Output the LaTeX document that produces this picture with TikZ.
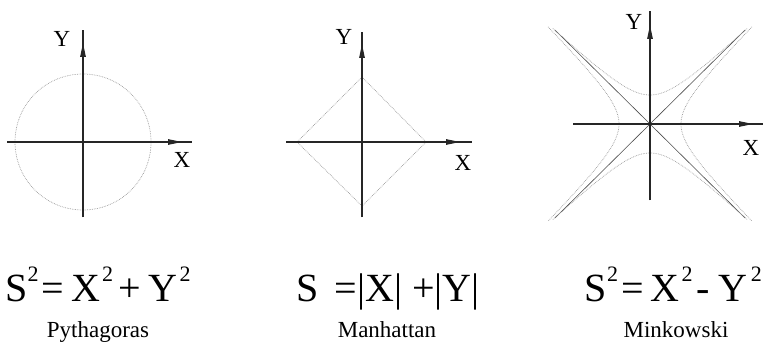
\documentclass[tikz,border=0pt]{standalone}
\usepackage{fontspec}
\setmainfont{Liberation Serif}
\usetikzlibrary{arrows.meta}
\newcommand{\sqr}{\raisebox{0.5em}{\fontsize{22}{22}\selectfont 2}}
\newcommand{\hs}[1]{\hspace{#1em}}
\tikzset{
  axline/.style={line width=1.1pt, black!85},
  axtipline/.style={line width=1.1pt, black!85, -{Stealth[length=14pt,width=5.5pt,inset=0pt]}},
  curvestyle/.style={line width=0.7pt, black!40, densely dotted},
  asymline/.style={line width=0.6pt, black!70},
  axlab/.style={font=\fontsize{23}{23}\selectfont, inner sep=0pt},
  formulatext/.style={font=\fontsize{40}{44}\selectfont, inner sep=0pt, anchor=base},
  nametext/.style={font=\fontsize{23}{25}\selectfont, inner sep=0pt, anchor=base}
}
\begin{document}
\begin{tikzpicture}[x=1pt,y=-1pt]
\useasboundingbox (0,0) rectangle (765,345);
% ---------- Pythagoras ----------
\coordinate (c1) at (83,142);
\draw[curvestyle] (c1) circle[radius=68];
\coordinate (x1a) at (7,142); \coordinate (x1b) at (192,142); \coordinate (x1t) at (182,142);
\coordinate (y1a) at (83,217); \coordinate (y1b) at (83,30); \coordinate (y1t) at (83,43);
\draw[axline] (x1a) -- (x1b); \draw[axtipline] (x1a) -- (x1t);
\draw[axline] (y1a) -- (y1b); \draw[axtipline] (y1a) -- (y1t);
\node[axlab] (Y1) at (62,38.5) {Y};
\node[axlab] (X1) at (182,160) {X};
% ---------- Manhattan ----------
\coordinate (c2) at (362,142);
\coordinate (d2t) at (362,77); \coordinate (d2r) at (426,142);
\coordinate (d2b) at (362,206); \coordinate (d2l) at (297,142);
\draw[curvestyle] (d2t) -- (d2r) -- (d2b) -- (d2l) -- cycle;
\coordinate (x2a) at (286,142); \coordinate (x2b) at (472,142); \coordinate (x2t) at (460,142);
\coordinate (y2a) at (362,217); \coordinate (y2b) at (362,32); \coordinate (y2t) at (362,44);
\draw[axline] (x2a) -- (x2b); \draw[axtipline] (x2a) -- (x2t);
\draw[axline] (y2a) -- (y2b); \draw[axtipline] (y2a) -- (y2t);
\node[axlab] (Y2) at (344,37) {Y};
\node[axlab] (X2) at (463,163) {X};
% ---------- Minkowski ----------
\coordinate (c3) at (650,124);
\begin{scope}[shift={(c3)}]
  \coordinate (a1) at (-95,-94); \coordinate (a2) at (95,94);
  \coordinate (a3) at (95,-94); \coordinate (a4) at (-95,94);
  \draw[asymline] (a1) -- (a2);
  \draw[asymline] (a3) -- (a4);
  \draw[curvestyle,smooth,variable=\t,domain=-1.86:1.86,samples=60]
    plot ({31*cosh(\t)},{31*sinh(\t)});
  \draw[curvestyle,smooth,variable=\t,domain=-1.86:1.86,samples=60]
    plot ({-31*cosh(\t)},{31*sinh(\t)});
  \draw[curvestyle,smooth,variable=\t,domain=-1.86:1.86,samples=60]
    plot ({31*sinh(\t)},{29*cosh(\t)});
  \draw[curvestyle,smooth,variable=\t,domain=-1.86:1.86,samples=60]
    plot ({31*sinh(\t)},{-29*cosh(\t)});
\end{scope}
\coordinate (x3a) at (573,124); \coordinate (x3b) at (763,124); \coordinate (x3t) at (753,124);
\coordinate (y3a) at (650,200); \coordinate (y3b) at (650,11); \coordinate (y3t) at (650,25);
\draw[axline] (x3a) -- (x3b); \draw[axtipline] (x3a) -- (x3t);
\draw[axline] (y3a) -- (y3b); \draw[axtipline] (y3a) -- (y3t);
\node[axlab] (Y3) at (634,22) {Y};
\node[axlab] (X3) at (751,148) {X};
% ---------- formulas ----------
\node[formulatext] (f1) at (98,301) {S\sqr\hs{0.08}=\hs{0.18}X\hs{0.04}\sqr\hs{0.14}+\hs{0.18}Y\hs{0.06}\sqr};
\node[formulatext] (f2) at (388,301) {S\hs{0.4}=|X|\hs{0.25}+|Y|};
\node[formulatext, anchor=base east] (f3) at (762,301) {S\sqr\hs{0.08}=\hs{0.16}X\hs{0.06}\sqr\hs{0.1}-\hs{0.22}Y\hs{0.08}\sqr};
\node[nametext] (n1) at (98,337) {Pythagoras};
\node[nametext] (n2) at (387,337) {Manhattan};
\node[nametext] (n3) at (676,337) {Minkowski};
\end{tikzpicture}
\end{document}
